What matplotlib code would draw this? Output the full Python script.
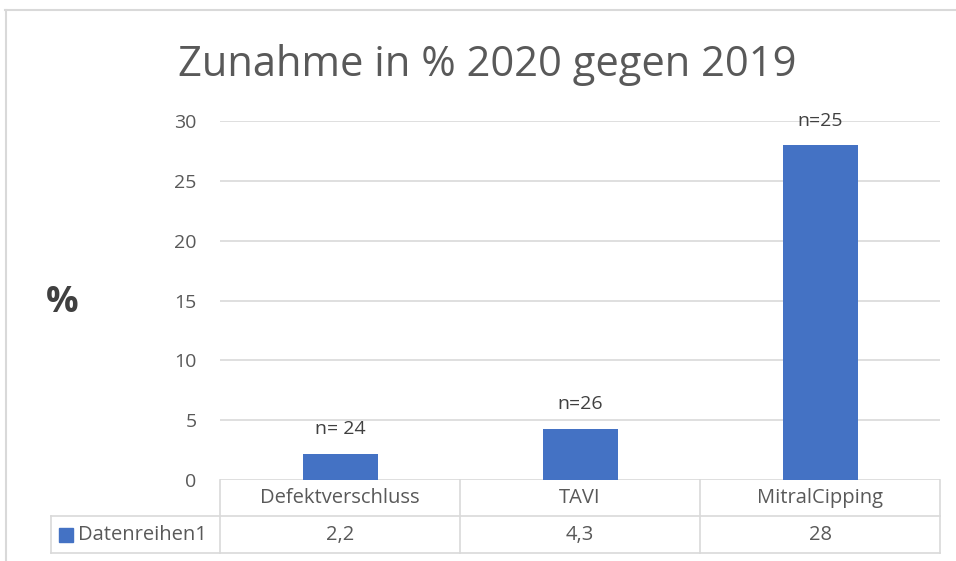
import matplotlib
matplotlib.use("Agg")
import matplotlib.pyplot as plt
from matplotlib.lines import Line2D
from matplotlib.patches import Rectangle
import matplotlib.transforms as mtransforms

# data
categories = ["Defektverschluss", "TAVI", "MitralCipping"]
values = [2.2, 4.3, 28]
value_labels = ["2,2", "4,3", "28"]
n_labels = ["n= 24", "n=26", "n=25"]
series_name = "Datenreihen1"
title = "Zunahme in % 2020 gegen 2019"

W, H = 956, 561
bar_color = "#4472C4"
grid_color = "#D9D9D9"
text_color = "#595959"
font = "Open Sans"

plt.rcParams["font.family"] = [font, "DejaVu Sans"]

fig = plt.figure(figsize=(W / 100, H / 100), dpi=100)

def fx(px):
    return px / W

def fy(py):
    return 1 - py / H

# plot area in pixel positions of the reference
ax = fig.add_axes([fx(220), fy(480), fx(940) - fx(220), fy(121) - fy(480)])
x = range(len(categories))
ax.bar(x, values, width=75 / 240, color=bar_color, zorder=3)
ax.set_xlim(-0.5, len(categories) - 0.5)
ax.set_ylim(0, 30)
ax.set_yticks([0, 5, 10, 15, 20, 25, 30])
ax.yaxis.grid(True, color=grid_color, linewidth=1.2)
ax.set_axisbelow(True)
for s in ax.spines.values():
    s.set_visible(False)
ax.set_xticks([])
ax.tick_params(axis="y", length=0, pad=17, labelsize=14, labelcolor=text_color)

for i, (v, lab) in enumerate(zip(values, n_labels)):
    ax.annotate(lab, (i, v), xytext=(0, 11), textcoords="offset points",
                ha="center", va="bottom", fontsize=14, color="#404040")

# title and axis label
fig.text(fx(487), fy(65), title, ha="center", va="center", fontsize=30, color=text_color)
fig.text(fx(62), fy(303), "%", ha="center", va="center", fontsize=26,
         fontweight="bold", color="#404040")

# chart border (top and left edge visible)
fig.add_artist(Line2D([fx(5), 1], [fy(9.5), fy(9.5)], transform=fig.transFigure,
                      color=grid_color, linewidth=1.5))
fig.add_artist(Line2D([fx(5.5), fx(5.5)], [fy(9.5), 0], transform=fig.transFigure,
                      color=grid_color, linewidth=1.5))

# data table
lw = 1.2
cols = [220, 460, 700, 940]
for c in cols:
    fig.add_artist(Line2D([fx(c), fx(c)], [fy(480), fy(553)], transform=fig.transFigure,
                          color=grid_color, linewidth=lw))
fig.add_artist(Line2D([fx(51), fx(51)], [fy(516), fy(553)], transform=fig.transFigure,
                      color=grid_color, linewidth=lw))
fig.add_artist(Line2D([fx(51), fx(940)], [fy(516), fy(516)], transform=fig.transFigure,
                      color=grid_color, linewidth=lw))
fig.add_artist(Line2D([fx(51), fx(940)], [fy(553), fy(553)], transform=fig.transFigure,
                      color=grid_color, linewidth=lw))

trans = mtransforms.blended_transform_factory(ax.transData, fig.transFigure)
for i, (cat, vl) in enumerate(zip(categories, value_labels)):
    fig.text(i, fy(498), cat, transform=trans, ha="center", va="center",
             fontsize=14.5, color=text_color)
    fig.text(i, fy(535), vl, transform=trans, ha="center", va="center",
             fontsize=14.5, color=text_color)

fig.add_artist(Rectangle((fx(59), fy(542)), fx(14), fy(528) - fy(542),
                         transform=fig.transFigure, color=bar_color))
fig.text(fx(78), fy(535), series_name, ha="left", va="center",
         fontsize=14.5, color=text_color)

fig.savefig("out.png", dpi=100)
